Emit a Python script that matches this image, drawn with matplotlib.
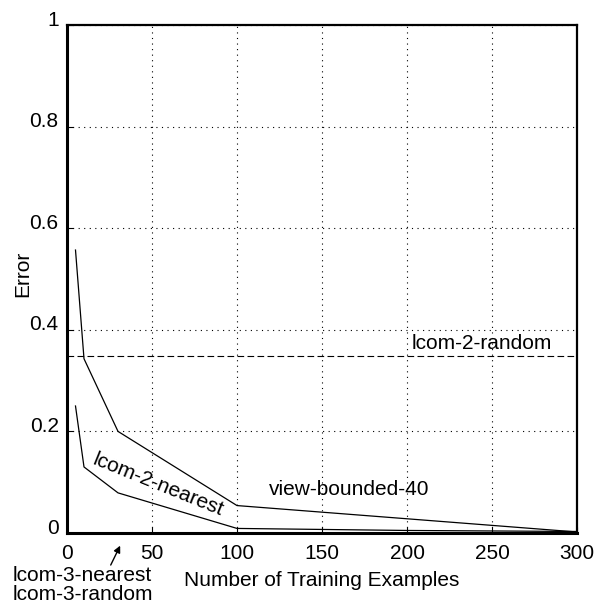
import matplotlib
matplotlib.use("Agg")
import matplotlib.pyplot as plt
import matplotlib.transforms as mtransforms

# datos
x_vb = [5, 10, 30, 100, 200, 300]
err_vb = [0.557, 0.343, 0.2, 0.054, 0.028, 0.002]

x_near = [5, 10, 30, 100, 200, 300]
err_near = [0.25, 0.13, 0.079, 0.009, 0.005, 0.003]

x_rand = [0, 300]
err_rand = [0.348, 0.348]

x_l3 = [5, 300]
err_l3 = [0.0, 0.0]

xticks = [0, 50, 100, 150, 200, 250, 300]
yticks = [0, 0.2, 0.4, 0.6, 0.8, 1]
yticklabels = ["0", "0.2", "0.4", "0.6", "0.8", "1"]

plt.rcParams["font.family"] = ["Liberation Sans", "DejaVu Sans"]
tam = 15

fig = plt.figure(figsize=(6.02, 6.08), dpi=100)
ax = fig.add_axes([67 / 602, 1 - 533 / 608, 510 / 602, 508 / 608])

ax.plot(x_vb, err_vb, color="black", lw=0.9)
ax.plot(x_near, err_near, color="black", lw=0.9)
ax.plot(x_rand, err_rand, color="black", lw=0.8, ls=(0, (6, 3)))
ax.plot(x_l3, err_l3, color="black", lw=0.8)

ax.set_xlim(0, 300)
ax.set_ylim(0, 1)
ax.set_xticks(xticks)
ax.set_yticks(yticks)
ax.set_yticklabels(yticklabels)
ax.grid(True, ls=(0, (1, 4)), color="black", lw=0.8)
ax.tick_params(direction="in", length=4, width=0.8, labelsize=tam)
ax.tick_params(axis="y", pad=6)
ax.tick_params(axis="x", pad=8)

# etiquetas del eje y un poco mas arriba, como en el original
desplazar = mtransforms.ScaledTranslation(0, 7 / 100, fig.dpi_scale_trans)
for lab in ax.get_yticklabels():
    lab.set_transform(lab.get_transform() + desplazar)

for lado in ["left", "bottom"]:
    ax.spines[lado].set_linewidth(2.2)
for lado in ["top", "right"]:
    ax.spines[lado].set_linewidth(1.6)

ax.set_xlabel("Number of Training Examples", fontsize=tam, labelpad=6)
ax.set_ylabel("Error", fontsize=tam)
ax.yaxis.set_label_coords(-0.068, 0.511)

ax.text(203, 0.374, "lcom-2-random", fontsize=tam, va="center", ha="left")
ax.text(119, 0.085, "view-bounded-40", fontsize=tam, va="center", ha="left")
ax.text(53.5, 0.094, "lcom-2-nearest", fontsize=tam, va="center", ha="center",
        rotation=-22, rotation_mode="anchor")

ax.annotate("", xy=(32, -0.02), xytext=(25, -0.068),
            arrowprops=dict(arrowstyle="-|>", color="black", lw=1, mutation_scale=10),
            annotation_clip=False)
ax.text(-32, -0.083, "lcom-3-nearest", fontsize=tam, va="center", ha="left", clip_on=False)
ax.text(-32, -0.122, "lcom-3-random", fontsize=tam, va="center", ha="left", clip_on=False)

plt.savefig("out.png", dpi=100)
plt.close()
